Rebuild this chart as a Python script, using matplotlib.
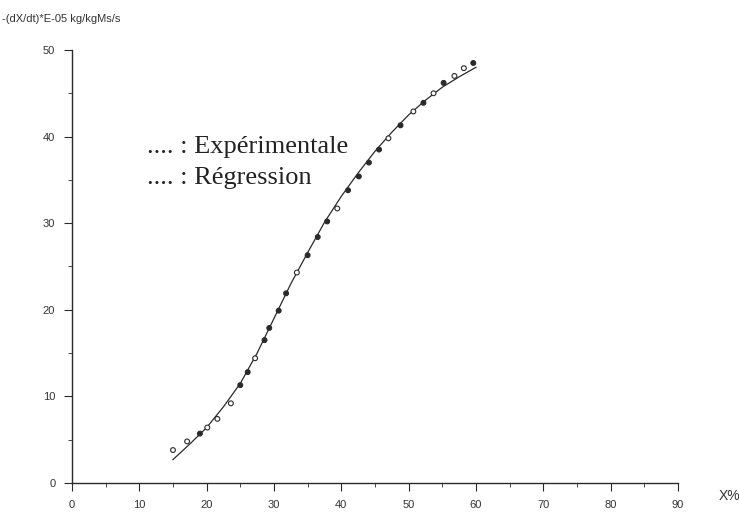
import matplotlib.pyplot as plt
from matplotlib.ticker import MultipleLocator

x_exp = [15.0, 17.1, 19.0, 20.1, 21.6, 23.6, 25.0, 26.1, 27.2, 28.6, 29.3,
         30.7, 31.8, 33.4, 35.0, 36.5, 37.9, 39.4, 41.0, 42.6, 44.1, 45.6,
         47.0, 48.8, 50.7, 52.2, 53.7, 55.2, 56.8, 58.2, 59.6]
y_exp = [3.8, 4.8, 5.7, 6.4, 7.4, 9.2, 11.3, 12.8, 14.4, 16.5, 17.9,
         19.9, 21.9, 24.3, 26.3, 28.4, 30.2, 31.7, 33.8, 35.4, 37.0, 38.5,
         39.8, 41.3, 42.9, 43.9, 45.0, 46.2, 47.0, 47.9, 48.5]
filled = [0, 0, 1, 0, 0, 0, 1, 1, 0, 1, 1,
          1, 1, 0, 1, 1, 1, 0, 1, 1, 1, 1,
          0, 1, 0, 1, 0, 1, 0, 0, 1]

# regression curve
x_reg = [15, 17.5, 20, 22.5, 25, 27.5, 30, 32.5, 35, 37.5, 40,
         42.5, 45, 47.5, 50, 52.5, 55, 57.5, 60]
y_reg = [2.7, 4.5, 6.4, 8.8, 11.5, 15.0, 19.0, 23.0, 26.6, 30.1, 33.1,
         35.8, 38.3, 40.5, 42.5, 44.2, 45.7, 46.9, 48.0]

ink = '#2a2a2a'

fig = plt.figure(figsize=(7.39, 5.19), dpi=100)
ax = fig.add_axes([0.0974, 0.0694, 0.82, 0.8343])

ax.plot(x_reg, y_reg, color=ink, lw=0.9)
faces = [ink if f else 'white' for f in filled]
ax.scatter(x_exp, y_exp, s=12, facecolors=faces, edgecolors=ink, linewidths=0.8, zorder=3)

ax.set_xlim(0, 90)
ax.set_ylim(0, 50)
ax.spines['top'].set_visible(False)
ax.spines['right'].set_visible(False)
for s in ('left', 'bottom'):
    ax.spines[s].set_color(ink)
    ax.spines[s].set_linewidth(1.0)

ax.xaxis.set_major_locator(MultipleLocator(10))
ax.xaxis.set_minor_locator(MultipleLocator(5))
ax.yaxis.set_major_locator(MultipleLocator(10))
ax.yaxis.set_minor_locator(MultipleLocator(5))
ax.tick_params(which='major', length=6, color=ink, labelsize=8, labelcolor='#333333', pad=6)
ax.tick_params(which='minor', length=3, color=ink)
for lab in ax.get_xticklabels() + ax.get_yticklabels():
    lab.set_family('Liberation Sans')

fig.text(0.003, 0.963, '-(dX/dt)*E-05 kg/kgMs/s', fontsize=8, color='#333333',
         family='Liberation Sans', va='center')
fig.text(0.972, 0.045, 'X%', fontsize=10, color='#333333',
         family='Liberation Sans', va='center')

ax.text(0.124, 0.775, '.... : Expérimentale', transform=ax.transAxes, fontsize=19,
        family='Liberation Serif', color='#222222', va='center')
ax.text(0.124, 0.705, '.... : Régression', transform=ax.transAxes, fontsize=19,
        family='Liberation Serif', color='#222222', va='center')

fig.savefig('out.png', dpi=100)
